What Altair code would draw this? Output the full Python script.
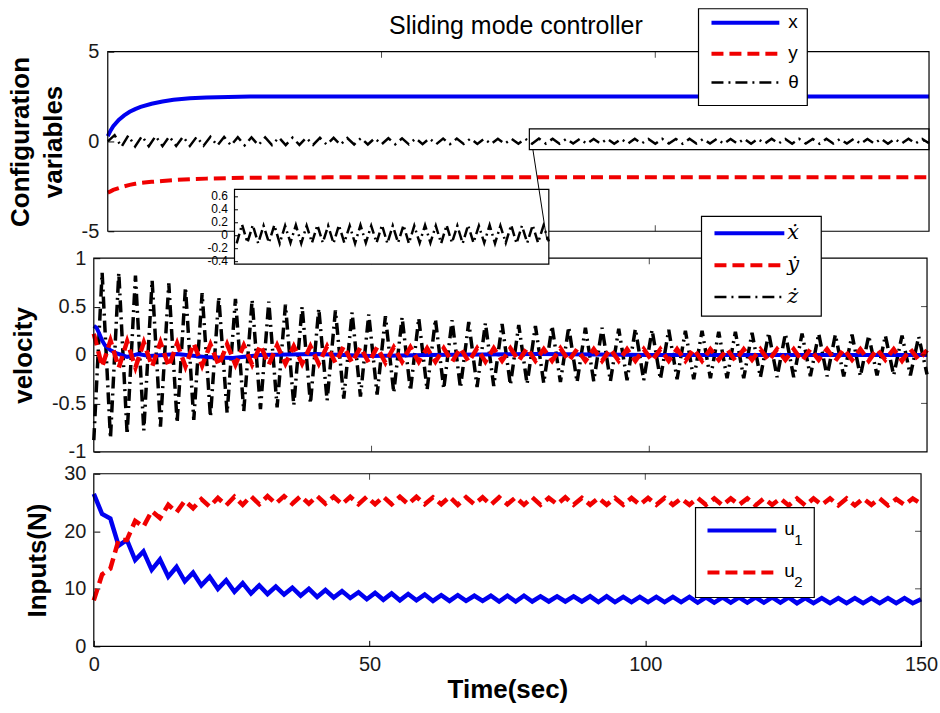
import altair as alt
import pandas as pd

FONT = "Liberation Sans"
BLUE = "#0000f0"
RED = "#f00000"
INK = "#1a1a1a"

# ---------------- top panel: configuration variables ----------------
t_xy = [0, 0.5, 1, 2, 3, 4, 5, 6, 8, 10, 12, 15, 18, 22, 26, 30, 40, 60, 80, 100, 120, 150]
x_pos = [0.3, 0.6, 0.85, 1.2, 1.45, 1.65, 1.8, 1.92, 2.1, 2.22, 2.32, 2.4, 2.45, 2.48, 2.5,
         2.5, 2.5, 2.5, 2.5, 2.5, 2.5, 2.5]
y_pos = [-2.85, -2.78, -2.7, -2.6, -2.5, -2.42, -2.36, -2.31, -2.25, -2.2, -2.15, -2.1, -2.07,
         -2.04, -2.02, -2.01, -2.0, -2.0, -2.0, -2.0, -2.0, -2.0]

theta_dt = 1.25  # sample spacing of theta readings (s)
theta = [0.0, 0.35, -0.3, 0.33, -0.28, 0.3, -0.27, 0.3, -0.26, 0.28, -0.25,
         0.27, -0.25, 0.26, -0.24, 0.26, -0.23, 0.25, -0.22, 0.24, -0.22,
         0.23, -0.21, 0.23, -0.2, 0.22, -0.2, 0.21, -0.19, 0.21, -0.19,
         0.2, -0.18, 0.2, -0.18, 0.19, -0.17, 0.19, -0.17, 0.18, -0.16,
         0.18, -0.16, 0.17, -0.16, 0.17, -0.15, 0.17, -0.15, 0.16, -0.15,
         0.16, -0.14, 0.16, -0.14, 0.15, -0.14, 0.15, -0.14, 0.15, -0.13,
         0.15, -0.13, 0.16, -0.12, 0.15, -0.13, 0.14, -0.12, 0.15, -0.13,
         0.14, -0.12, 0.15, -0.13, 0.14, -0.12, 0.15, -0.12, 0.14, -0.13,
         0.15, -0.12, 0.14, -0.13, 0.15, -0.12, 0.14, -0.12, 0.15, -0.13,
         0.14, -0.12, 0.15, -0.13, 0.14, -0.12, 0.15, -0.12, 0.14, -0.13,
         0.15, -0.12, 0.14, -0.13, 0.15, -0.12, 0.14, -0.12, 0.15, -0.13,
         0.14, -0.12, 0.15, -0.13, 0.14, -0.12, 0.15, -0.12, 0.14, -0.1]

zoom_window = {"t0": [77], "t1": [150], "v0": [-0.45], "v1": [0.7]}

# ---------------- middle panel: velocity ----------------
t_xdot = [0, 0.5, 1, 1.5, 2, 3, 4, 5, 6, 8, 10, 15, 20, 25, 30, 40, 50, 60, 80, 100, 120, 150]
xdot = [0.3, 0.28, 0.22, 0.15, 0.1, 0.05, 0.02, 0.0, -0.02, 0.01, -0.01, 0.01, -0.02, -0.03,
        0.0, 0.01, -0.01, 0.0, 0.01, 0.0, 0.0, 0.0]

fast_dt = 1.5  # sample spacing of the oscillating readings (s)
ydot = [0.22, -0.12, 0.15, -0.13, 0.14, -0.13, 0.13, -0.12, 0.13, -0.12, 0.12,
        -0.12, 0.12, -0.11, 0.11, -0.11, 0.11, -0.1, 0.1, -0.1, 0.1,
        -0.1, 0.1, -0.09, 0.09, -0.09, 0.09, -0.09, 0.09, -0.08, 0.09,
        -0.08, 0.08, -0.08, 0.08, -0.08, 0.08, -0.07, 0.08, -0.07, 0.07,
        -0.07, 0.07, -0.07, 0.07, -0.07, 0.07, -0.07, 0.07, -0.06, 0.07,
        -0.06, 0.07, -0.06, 0.06, -0.06, 0.07, -0.06, 0.06, -0.06, 0.06,
        -0.06, 0.06, -0.06, 0.06, -0.06, 0.06, -0.06, 0.06, -0.06, 0.06,
        -0.06, 0.06, -0.06, 0.06, -0.05, 0.06, -0.06, 0.06, -0.05, 0.06,
        -0.06, 0.06, -0.05, 0.06, -0.06, 0.06, -0.05, 0.06, -0.06, 0.06,
        -0.05, 0.06, -0.06, 0.06, -0.05, 0.06, -0.06, 0.06, -0.05, 0.05]
zdot = [-0.88, 0.85, -0.86, 0.85, -0.82, 0.82, -0.78, 0.77, -0.74, 0.74, -0.7,
        0.7, -0.67, 0.64, -0.64, 0.6, -0.6, 0.58, -0.58, 0.57, -0.56,
        0.55, -0.54, 0.52, -0.52, 0.5, -0.5, 0.48, -0.47, 0.46, -0.45,
        0.44, -0.43, 0.42, -0.41, 0.4, -0.39, 0.39, -0.37, 0.38, -0.36,
        0.37, -0.35, 0.36, -0.34, 0.34, -0.33, 0.33, -0.32, 0.32, -0.31,
        0.31, -0.3, 0.3, -0.29, 0.3, -0.28, 0.29, -0.28, 0.28, -0.27,
        0.28, -0.27, 0.27, -0.26, 0.27, -0.26, 0.26, -0.25, 0.26, -0.25,
        0.25, -0.25, 0.25, -0.24, 0.24, -0.24, 0.24, -0.24, 0.23, -0.23,
        0.23, -0.23, 0.22, -0.23, 0.22, -0.22, 0.22, -0.22, 0.21, -0.22,
        0.21, -0.22, 0.2, -0.21, 0.2, -0.21, 0.2, -0.21, 0.19, -0.2]

# ---------------- bottom panel: inputs ----------------
u1 = [26.5, 23.0, 22.2, 17.5, 18.5, 15.0, 16.5, 13.3, 15.1, 12.1, 13.8,
      11.3, 12.8, 10.6, 12.1, 10.0, 11.5, 9.5, 11.0, 9.2, 10.6,
      9.1, 10.4, 9.0, 10.2, 8.8, 10.0, 8.6, 9.8, 8.5, 9.6,
      8.4, 9.4, 8.2, 9.3, 8.1, 9.2, 8.0, 9.1, 8.0, 9.0,
      7.9, 8.9, 7.9, 8.9, 7.9, 8.8, 7.9, 8.8, 7.8, 8.8,
      7.8, 8.8, 7.8, 8.7, 7.8, 8.7, 7.8, 8.7, 7.8, 8.7,
      7.7, 8.7, 7.7, 8.6, 7.7, 8.6, 7.7, 8.6, 7.7, 8.6,
      7.7, 8.6, 7.6, 8.5, 7.6, 8.5, 7.6, 8.5, 7.6, 8.5,
      7.6, 8.5, 7.6, 8.5, 7.5, 8.4, 7.5, 8.4, 7.5, 8.4,
      7.5, 8.4, 7.5, 8.4, 7.5, 8.4, 7.5, 8.4, 7.5, 8.2]
u2 = [8.0, 12.5, 13.5, 18.5, 18.5, 21.8, 20.8, 23.5, 22.3, 24.6, 23.3,
      25.3, 24.0, 25.6, 24.3, 25.8, 24.5, 26.0, 24.6, 26.1, 24.7,
      26.1, 24.8, 26.1, 24.8, 26.1, 24.8, 26.1, 24.8, 26.0, 24.7,
      26.0, 24.7, 26.0, 24.7, 26.0, 24.7, 26.0, 24.7, 26.0, 24.7,
      25.9, 24.7, 26.0, 24.6, 25.9, 24.7, 25.9, 24.6, 25.9, 24.7,
      25.9, 24.6, 25.9, 24.6, 25.8, 24.7, 25.9, 24.6, 25.8, 24.6,
      25.8, 24.6, 25.8, 24.6, 25.8, 24.6, 25.8, 24.6, 25.8, 24.6,
      25.7, 24.6, 25.8, 24.6, 25.7, 24.5, 25.7, 24.6, 25.7, 24.5,
      25.7, 24.6, 25.7, 24.5, 25.7, 24.5, 25.7, 24.6, 25.7, 24.5,
      25.7, 24.5, 25.7, 24.6, 25.7, 24.5, 25.6, 24.6, 25.7, 24.8]

# ---------------- text / ticks ----------------
title_text = "Sliding mode controller"
top_labels = ["x", "y", "θ"]
mid_labels = ["ẋ", "ẏ", "ż"]
bot_labels = ["u", "u"]
bot_subs = ["1", "2"]
top_ticks = [-5, 0, 5]
mid_ticks = [-1, -0.5, 0, 0.5, 1]
inset_ticks = [-0.4, -0.2, 0, 0.2, 0.4, 0.6]
bot_ticks = [0, 10, 20, 30]
time_ticks = [0, 50, 100, 150]
inner_time_ticks = [50, 100]
top_inner_ticks = [0]
mid_inner_ticks = [-0.5, 0, 0.5]
bot_inner_ticks = [10, 20]

# ---------------- tables ----------------
t_theta = [round(theta_dt * i, 3) for i in range(len(theta))]
t_fast = [round(fast_dt * i, 3) for i in range(len(zdot))]
top_df = pd.DataFrame({"t": t_xy, "x": x_pos, "y": y_pos})
theta_df = pd.DataFrame({"t": t_theta, "v": theta})
inset_df = theta_df[theta_df["t"] >= 77]
xdot_df = pd.DataFrame({"t": t_xdot, "v": xdot})
mid_df = pd.DataFrame({"t": t_fast, "ydot": ydot, "zdot": zdot})
bot_df = pd.DataFrame({"t": t_fast, "u1": u1, "u2": u2})
one = pd.DataFrame({"k": [0]})
xtick_df = pd.DataFrame({"t": inner_time_ticks})

DASH = [12, 6]
DASHDOT = [12, 5, 2, 5]


def box(x0, x1, y0, y1, fill=False):
    kw = dict(stroke="black", strokeWidth=1.2)
    if fill:
        kw["fill"] = "white"
    else:
        kw["fillOpacity"] = 0
    return alt.Chart(one).mark_rect(**kw).encode(
        x=alt.value(x0), x2=alt.value(x1), y=alt.value(y0), y2=alt.value(y1))


def key_line(x0, x1, y, color, width, dash=None):
    kw = dict(color=color, strokeWidth=width)
    if dash:
        kw["strokeDash"] = dash
    return alt.Chart(one).mark_rule(**kw).encode(
        x=alt.value(x0), x2=alt.value(x1), y=alt.value(y))


def key_text(x, y, text, size=19, font=FONT, style="normal", align="left", baseline="middle"):
    return alt.Chart(one).mark_text(
        text=text, align=align, baseline=baseline, font=font, fontSize=size,
        fontStyle=style, color="black").encode(x=alt.value(x), y=alt.value(y))


def yaxis(values, title, offset, lp, tp, **kw):
    return alt.Axis(values=values, labelExpr="datum.value", offset=offset, tickSize=6,
                    tickColor="black", domain=False, grid=False, labelPadding=lp,
                    labelFont=FONT, labelFontSize=20, labelColor=INK, title=title,
                    titleFont=FONT, titleFontSize=26, titleFontWeight="bold",
                    titleColor="black", titlePadding=tp, **kw)


def edge_xticks(scale, axis, ypx):
    # inward tick marks on a horizontal edge, at the time tick values
    return alt.Chart(xtick_df).mark_tick(color="black", size=6, thickness=1).encode(
        x=alt.X("t:Q", scale=scale, axis=axis), y=alt.value(ypx))


def edge_yticks(values, scale, axis, xpx):
    # inward tick marks on the right edge, at the y tick values
    return alt.Chart(pd.DataFrame({"v": values})).mark_tick(
        color="black", size=6, thickness=1).encode(
        y=alt.Y("v:Q", scale=scale, axis=axis), x=alt.value(xpx))


# ---------------- top chart ----------------
xs_top = alt.Scale(domain=[0, 150], range=[14, 837], nice=False, zero=False)
ys_top = alt.Scale(domain=[-5, 5], range=[180, 0], nice=False, zero=False)
ax_top = yaxis(top_ticks, ["Configuration", "variables"], -20, 9, 15, titleLineHeight=33)

top_x = alt.Chart(top_df).mark_line(color=BLUE, strokeWidth=4).encode(
    x=alt.X("t:Q", scale=xs_top, axis=None),
    y=alt.Y("x:Q", scale=ys_top, axis=ax_top))
top_y = alt.Chart(top_df).mark_line(color=RED, strokeWidth=4, strokeDash=DASH).encode(
    x=alt.X("t:Q", scale=xs_top, axis=None),
    y=alt.Y("y:Q", scale=ys_top, axis=ax_top))
top_th = alt.Chart(theta_df).mark_line(color="black", strokeWidth=2.5, strokeDash=DASHDOT).encode(
    x=alt.X("t:Q", scale=xs_top, axis=None),
    y=alt.Y("v:Q", scale=ys_top, axis=ax_top))
zoom_rect = alt.Chart(pd.DataFrame(zoom_window)).mark_rect(
    fillOpacity=0, stroke="black", strokeWidth=1.2).encode(
    x=alt.X("t0:Q", scale=xs_top, axis=None), x2="t1:Q",
    y=alt.Y("v0:Q", scale=ys_top, axis=ax_top), y2="v1:Q")

top = alt.layer(
    top_x, top_y, top_th, zoom_rect, box(14, 837, 0, 180),
    edge_xticks(xs_top, None, 3), edge_xticks(xs_top, None, 177),
    edge_yticks(top_inner_ticks, ys_top, ax_top, 834),
    key_text(423, -18, title_text, 25, align="center", baseline="alphabetic"),
    box(606, 715, -43, 54, True),
    key_line(619, 687, -29, BLUE, 4),
    key_line(619, 687, 2, RED, 4, DASH),
    key_line(619, 687, 31, "black", 2.5, DASHDOT),
    key_text(696, -30, top_labels[0]),
    key_text(696, 1, top_labels[1]),
    key_text(696, 30, top_labels[2]),
).properties(width=837, height=185)

# ---------------- middle chart ----------------
xs_mid = alt.Scale(domain=[0, 150], nice=False, zero=False)
ys_mid = alt.Scale(domain=[-1, 1], nice=False, zero=False)
ax_mid = yaxis(mid_ticks, "velocity", -6, 8, 15)

mid_z = alt.Chart(mid_df).mark_line(color="black", strokeWidth=3.5, strokeDash=DASHDOT).encode(
    x=alt.X("t:Q", scale=xs_mid, axis=None),
    y=alt.Y("zdot:Q", scale=ys_mid, axis=ax_mid))
mid_x = alt.Chart(xdot_df).mark_line(color=BLUE, strokeWidth=4).encode(
    x=alt.X("t:Q", scale=xs_mid, axis=None),
    y=alt.Y("v:Q", scale=ys_mid, axis=ax_mid))
mid_y = alt.Chart(mid_df).mark_line(color=RED, strokeWidth=4.5, strokeDash=DASH).encode(
    x=alt.X("t:Q", scale=xs_mid, axis=None),
    y=alt.Y("ydot:Q", scale=ys_mid, axis=ax_mid))
main_mid = alt.layer(
    mid_z, mid_x, mid_y, box(0, 835, 0, 194),
    edge_xticks(xs_mid, None, 3), edge_xticks(xs_mid, None, 191),
    edge_yticks(mid_inner_ticks, ys_mid, ax_mid, 832))

xs_in = alt.Scale(domain=[77, 150], range=[141, 456], nice=False, zero=False)
ys_in = alt.Scale(domain=[-0.45, 0.7], range=[6, -69], nice=False, zero=False)
inset_line = alt.Chart(inset_df).mark_line(color="black", strokeWidth=2.5, strokeDash=[10, 4, 2, 4]).encode(
    x=alt.X("t:Q", scale=xs_in, axis=None),
    y=alt.Y("v:Q", scale=ys_in,
            axis=alt.Axis(orient="left", values=inset_ticks, labelExpr="datum.value",
                          offset=-144, tickSize=3, tickColor="black", domain=False,
                          grid=False, labelPadding=7, labelFont=FONT, labelFontSize=12,
                          labelColor="black", labelOverlap=False, title=None, zindex=1)))
inset = alt.layer(box(141, 456, -69, 6, True), inset_line)

connector = alt.Chart(one).mark_rule(color="black", strokeWidth=1).encode(
    x=alt.value(440), y=alt.value(-109), x2=alt.value(454), y2=alt.value(-18))

mid = alt.layer(
    main_mid, inset, connector,
    box(609, 729, -42, 58, True),
    key_line(622, 692, -25, BLUE, 4),
    key_line(622, 692, 7, RED, 4, DASH),
    key_line(622, 692, 39, "black", 2.5, DASHDOT),
    key_text(695, -25, mid_labels[0], 21, "DejaVu Serif", "italic"),
    key_text(695, 7, mid_labels[1], 21, "DejaVu Serif", "italic"),
    key_text(695, 39, mid_labels[2], 21, "DejaVu Serif", "italic"),
).resolve_scale(x="independent", y="independent").properties(width=835, height=194)

# ---------------- bottom chart ----------------
xs_bot = alt.Scale(domain=[0, 150], nice=False, zero=False)
ys_bot = alt.Scale(domain=[0, 30], nice=False, zero=False)
time_axis = alt.Axis(values=time_ticks, labelExpr="datum.value", offset=-6, tickSize=6,
                     tickColor="black", domain=False, grid=False, labelPadding=8,
                     labelFlush=False, labelFont=FONT, labelFontSize=20, labelColor=INK,
                     title="Time(sec)", titleFont=FONT, titleFontSize=26,
                     titleFontWeight="bold", titleColor="black", titlePadding=2)
ax_bot = yaxis(bot_ticks, "Inputs(N)", -6, 8, 13)

bot_u1 = alt.Chart(bot_df).mark_line(color=BLUE, strokeWidth=4.5).encode(
    x=alt.X("t:Q", scale=xs_bot, axis=time_axis),
    y=alt.Y("u1:Q", scale=ys_bot, axis=ax_bot))
bot_u2 = alt.Chart(bot_df).mark_line(color=RED, strokeWidth=4.5, strokeDash=DASH).encode(
    x=alt.X("t:Q", scale=xs_bot, axis=time_axis),
    y=alt.Y("u2:Q", scale=ys_bot, axis=ax_bot))

bot = alt.layer(
    bot_u1, bot_u2, box(0, 829, 0, 173),
    edge_xticks(xs_bot, time_axis, 3),
    edge_yticks(bot_inner_ticks, ys_bot, ax_bot, 826),
    box(603, 722, 34, 124, True),
    key_line(615, 684, 57, BLUE, 4),
    key_line(615, 684, 99, RED, 4, DASH),
    key_text(692, 55, bot_labels[0], 19),
    key_text(702, 66, bot_subs[0], 15),
    key_text(692, 97, bot_labels[1], 19),
    key_text(702, 108, bot_subs[1], 15),
).properties(width=829, height=173)

chart = alt.vconcat(top, mid, bot, spacing=22, bounds="flush").properties(
    padding={"left": 7, "top": 7, "right": 2, "bottom": 0}
).configure_view(strokeWidth=0)

chart.save("out.html", embed_options={"renderer": "svg", "actions": False})
